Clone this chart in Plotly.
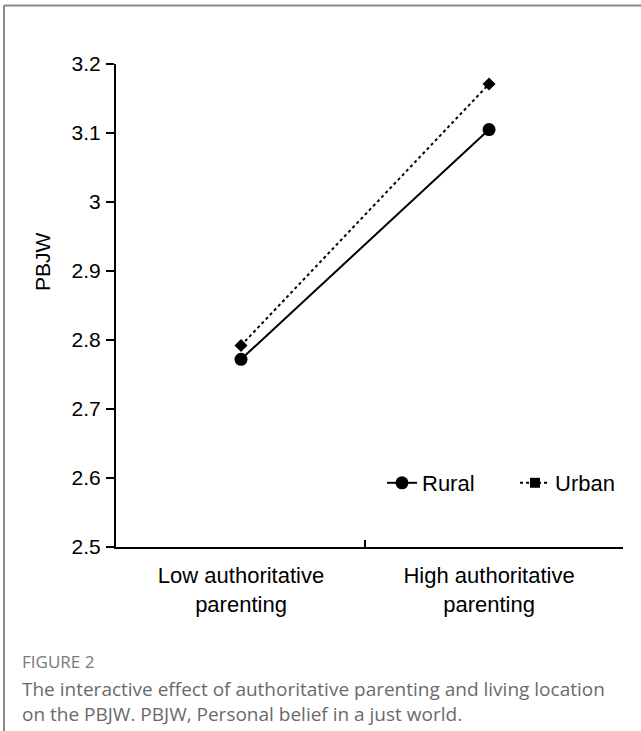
import plotly.graph_objects as go

# Estimated marginal means of PBJW by parenting level and living location
categories = ["Low authoritative<br>parenting", "High authoritative<br>parenting"]
cat_pos = [0, 1]
rural = [2.772, 3.105]
urban = [2.792, 3.171]
y_ticks = [2.5, 2.6, 2.7, 2.8, 2.9, 3.0, 3.1, 3.2]
y_tick_text = ["2.5", "2.6", "2.7", "2.8", "2.9", "3", "3.1", "3.2"]

W, H = 641, 731
L, R, T, B = 116, 18, 64, 184
PW, PH = W - L - R, H - T - B


def px(xp):
    return (xp - L) / PW


def py(yp):
    return (H - B - yp) / PH


CHART_FONT = "Liberation Sans, Arial, sans-serif"
CAP_FONT = "Open Sans, Noto Sans, sans-serif"

fig = go.Figure()

fig.add_trace(go.Scatter(
    x=cat_pos, y=rural, name="Rural", mode="lines+markers",
    line=dict(color="black", width=2),
    marker=dict(symbol="circle", size=13, color="black"),
    showlegend=True,
))
fig.add_trace(go.Scatter(
    x=cat_pos, y=urban, name="Urban", mode="lines+markers",
    line=dict(color="black", width=2, dash="dot"),
    marker=dict(symbol="diamond", size=10, color="black"),
    showlegend=False,
))
# legend entry for the urban series (square key)
fig.add_trace(go.Scatter(
    x=[None], y=[None], name="Urban", mode="lines+markers",
    line=dict(color="black", width=2, dash="dot"),
    marker=dict(symbol="square", size=10, color="black"),
    showlegend=True,
))
# boundary ticks on the category axis
fig.add_trace(go.Scatter(x=[None], y=[None], xaxis="x2", showlegend=False))

xr = [-0.504, 1.54]

fig.update_layout(
    width=W, height=H,
    margin=dict(l=L, r=R, t=T, b=B, autoexpand=False),
    paper_bgcolor="white", plot_bgcolor="white",
    font=dict(family=CHART_FONT, size=22, color="black"),
    xaxis=dict(
        range=xr, tickvals=cat_pos, ticktext=categories,
        ticks="", showgrid=False, zeroline=False,
        showline=True, linecolor="black", linewidth=2,
        tickfont=dict(size=22), ticklabelstandoff=8,
    ),
    xaxis2=dict(
        range=xr, overlaying="x", side="bottom",
        tickvals=[0.5, xr[1]], ticks="inside", ticklen=7, tickwidth=2,
        tickcolor="black", showticklabels=False, showgrid=False,
        zeroline=False, showline=False,
    ),
    yaxis=dict(
        range=[2.5, 3.2], tickvals=y_ticks, ticktext=y_tick_text,
        ticks="outside", ticklen=8, tickwidth=2, tickcolor="black",
        showgrid=False, zeroline=False,
        showline=True, linecolor="black", linewidth=2,
        tickfont=dict(size=21), ticklabelstandoff=1,
    ),
    legend=dict(
        orientation="h", x=px(382), y=py(483), xanchor="left", yanchor="middle",
        bgcolor="rgba(0,0,0,0)", font=dict(size=22),
        entrywidth=88, entrywidthmode="pixels",
    ),
    showlegend=True,
)

annotations = [
    dict(text="PBJW", x=px(42), y=py(262), xref="paper", yref="paper",
         textangle=-90, showarrow=False, font=dict(size=21, family=CHART_FONT),
         xanchor="center", yanchor="middle"),
    dict(text="FIGURE 2", x=px(20), y=py(661), xref="paper", yref="paper",
         showarrow=False, font=dict(size=17, family=CAP_FONT, color="#7a7a7a"),
         xanchor="left", yanchor="middle"),
    dict(text="The interactive effect of authoritative parenting and living location",
         x=px(20), y=py(689), xref="paper", yref="paper",
         showarrow=False, font=dict(size=19, family=CAP_FONT, color="#6a6a6a"),
         xanchor="left", yanchor="middle"),
    dict(text="on the PBJW. PBJW, Personal belief in a just world.",
         x=px(20), y=py(714), xref="paper", yref="paper",
         showarrow=False, font=dict(size=19, family=CAP_FONT, color="#6a6a6a"),
         xanchor="left", yanchor="middle"),
]
fig.update_layout(annotations=annotations)

# page frame (top and left rules)
frame = dict(color="#8a8a8a", width=2)
fig.add_shape(type="line", xref="paper", yref="paper",
              x0=px(4), x1=px(W), y0=py(5.5), y1=py(5.5), line=frame)
fig.add_shape(type="line", xref="paper", yref="paper",
              x0=px(4), x1=px(4), y0=py(5.5), y1=py(H), line=frame)

fig.write_html("out.html")
